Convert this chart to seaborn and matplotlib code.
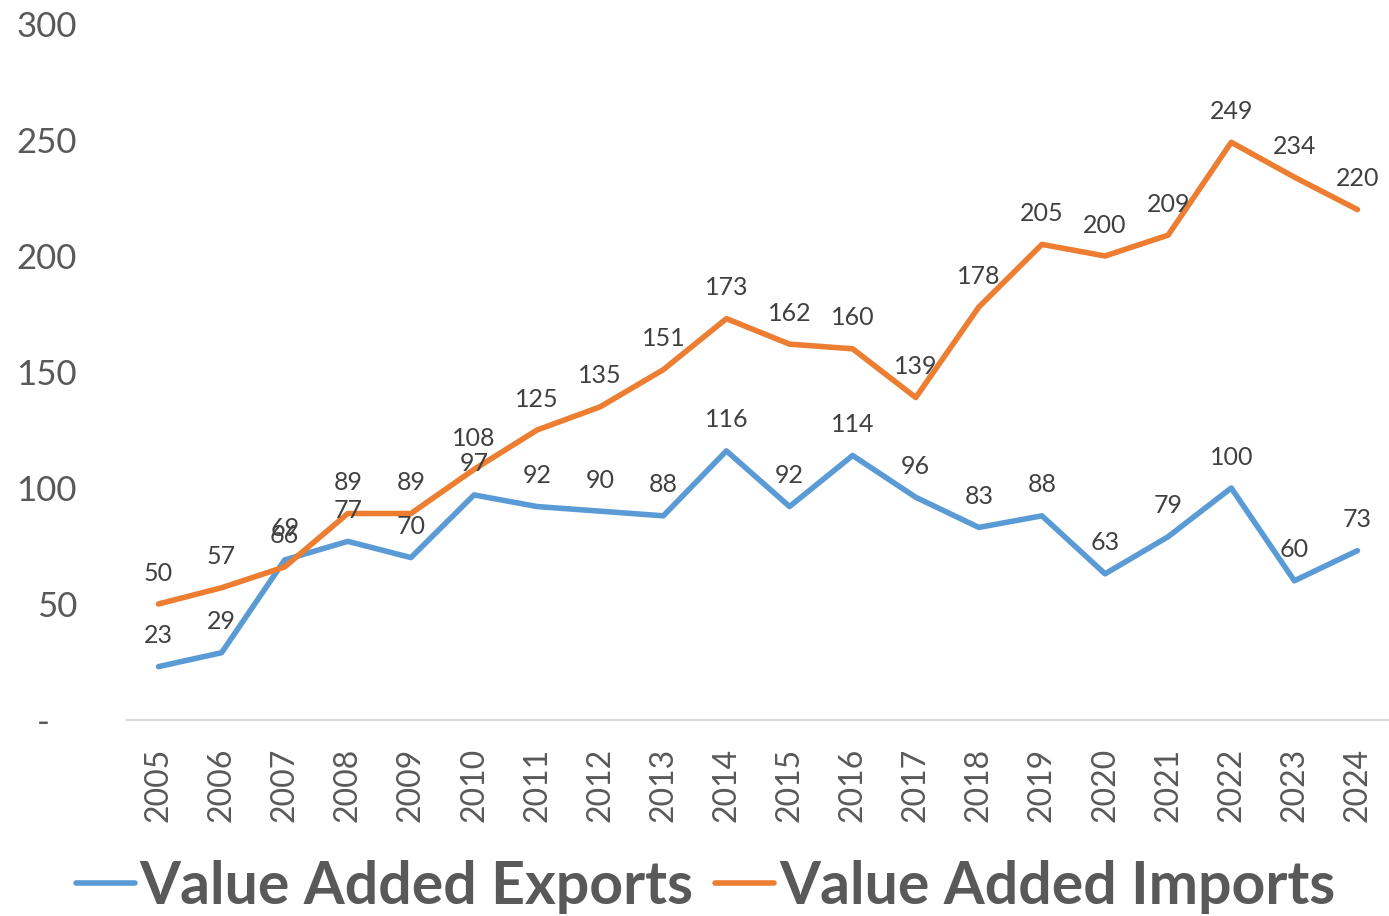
import matplotlib
matplotlib.use("Agg")
import matplotlib.pyplot as plt
import seaborn as sns
import pandas as pd

years = [str(y) for y in range(2005, 2025)]
exports = [23, 29, 69, 77, 70, 97, 92, 90, 88, 116, 92, 114, 96, 83, 88, 63, 79, 100, 60, 73]
imports = [50, 57, 66, 89, 89, 108, 125, 135, 151, 173, 162, 160, 139, 178, 205, 200, 209, 249, 234, 220]
series_names = ["Value Added Exports", "Value Added Imports"]
y_ticks = [0, 50, 100, 150, 200, 250, 300]
y_tick_labels = ["-   ", "50", "100", "150", "200", "250", "300"]

sns.set_theme(style="white")
plt.rcParams["font.family"] = ["Lato", "DejaVu Sans"]

df = pd.DataFrame({
    "Year": years * 2,
    "Value": exports + imports,
    "Series": [series_names[0]] * len(years) + [series_names[1]] * len(years),
})

fig = plt.figure(figsize=(13.89, 9.16), dpi=100)
ax = fig.add_axes([0.0914, 0.214, 0.9086, 0.7598])
palette = {series_names[0]: "#5B9BD5", series_names[1]: "#ED7D31"}
sns.lineplot(data=df, x="Year", y="Value", hue="Series", palette=palette,
             linewidth=4.0, ax=ax, sort=False, legend=True)

ax.set_xlim(-0.5, len(years) - 0.5)
ax.set_ylim(0, 300)
ax.set_yticks(y_ticks)
ax.set_yticklabels(y_tick_labels)
ax.set_xlabel("")
ax.set_ylabel("")
for s in ["left", "right", "top"]:
    ax.spines[s].set_visible(False)
ax.spines["bottom"].set_color("#d9d9d9")
ax.spines["bottom"].set_linewidth(1.5)
ax.tick_params(axis="y", length=0, pad=36, labelsize=25, labelcolor="#595959")
ax.tick_params(axis="x", length=0, pad=20, labelsize=23, labelcolor="#595959", rotation=90)
for lbl in ax.get_yticklabels():
    lbl.set_horizontalalignment("right")
ax.grid(False)

for i, (e, m) in enumerate(zip(exports, imports)):
    ax.annotate(str(e), (i, e), xytext=(0, 14), textcoords="offset points",
                ha="center", va="bottom", fontsize=18, color="#404040")
    ax.annotate(str(m), (i, m), xytext=(0, 14), textcoords="offset points",
                ha="center", va="bottom", fontsize=18, color="#404040")

handles, labels = ax.get_legend_handles_labels()
ax.get_legend().remove()
leg = fig.legend(handles, labels, loc="center", bbox_to_anchor=(0.508, 0.032), ncol=2,
                 frameon=False, handlelength=1.0, handletextpad=0.08, columnspacing=0.37,
                 prop={"family": "Lato", "weight": "bold", "size": 42.5})
for t in leg.get_texts():
    t.set_color("#595959")

fig.savefig("out.png", dpi=100)
